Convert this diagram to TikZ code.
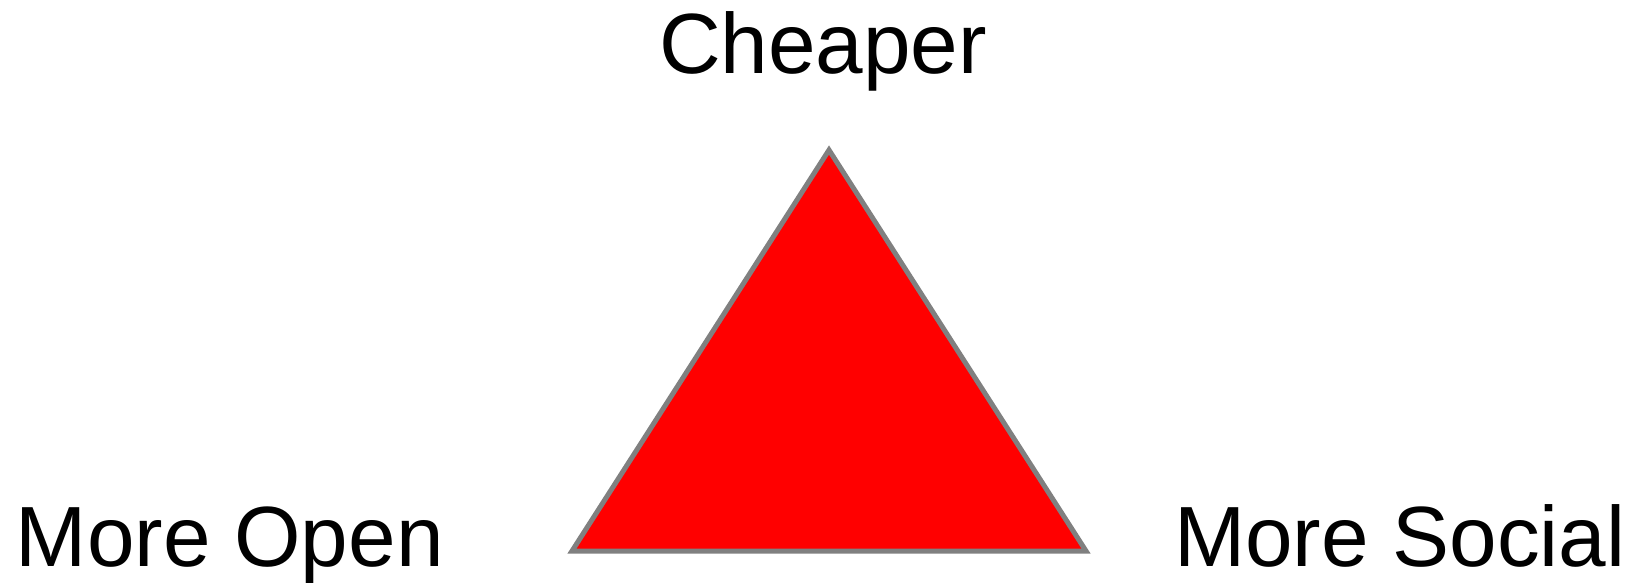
\documentclass[tikz,border=0pt]{standalone}
\usepackage{fontspec}
\setmainfont{Liberation Sans}
\definecolor{edgegray}{HTML}{808080}
\tikzset{
  lbl/.style={anchor=base west, inner sep=0pt, outer sep=0pt, text=black},
  tri/.style={fill=red, draw=edgegray, line width=5pt, line join=miter},
}
\begin{document}
\begin{tikzpicture}[x=1pt,y=-1pt]
\useasboundingbox (0,0) rectangle (1635,582);
\coordinate (top) at (829,150);
\coordinate (bl) at (572,551);
\coordinate (br) at (1086,551);
\draw[tri] (top) -- (br) -- (bl) -- cycle;
\node[lbl] (cheaper) at (659,73) {\fontsize{85.5}{100}\selectfont Cheaper};
\node[lbl] (open) at (16,566) {\fontsize{85.5}{100}\selectfont More Open};
\node[lbl] (social) at (1174,566) {\fontsize{85.5}{100}\selectfont More Social};
\end{tikzpicture}
\end{document}
